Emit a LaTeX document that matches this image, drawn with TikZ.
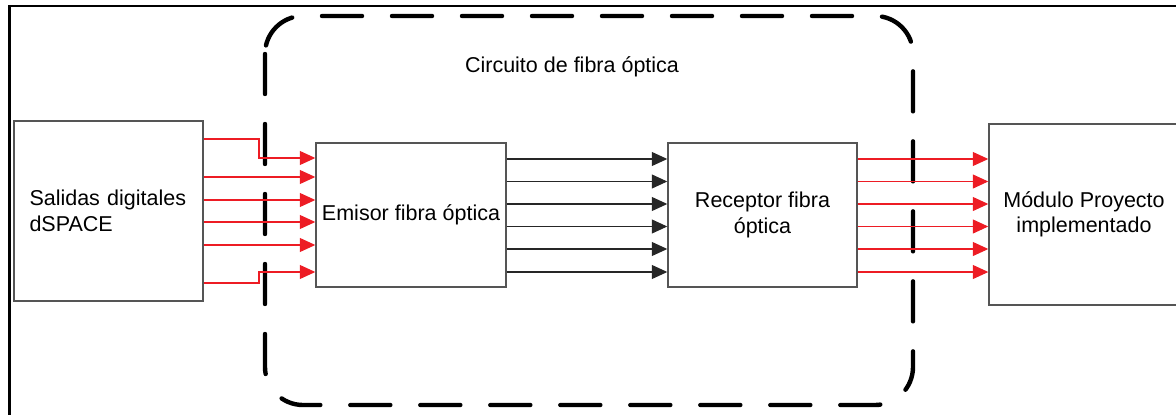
\documentclass[tikz,border=0pt]{standalone}
\usepackage{fontspec}
\setmainfont{Liberation Sans}
\usepackage{tikz}
\usetikzlibrary{arrows.meta,positioning}
\definecolor{sigred}{RGB}{237,28,36}
\definecolor{boxgray}{RGB}{85,85,85}

\begin{document}
\begin{tikzpicture}[x=1pt, y=-1pt, every node/.style={font=\fontsize{21.5}{25.5}\selectfont},
  blk/.style={draw=boxgray, line width=1.4pt, inner sep=0pt, align=center},
  redwire/.style={draw=sigred, line width=1.1pt, -{Triangle[length=15.5pt,width=14pt]}},
  blackwire/.style={draw=black!85, line width=1.1pt, -{Triangle[length=15.5pt,width=14pt]}},
  fiberzone/.style={line width=4.4pt, line cap=round, dash pattern=on 40pt off 30pt, rounded corners=38pt}]
  \useasboundingbox (0,0) rectangle (1176,415);
  % outer frame
  \draw[line width=2.8pt] (9.5,415) -- (9.5,6) -- (1176,6);
  % boxes
  \node[blk, minimum width=189pt, minimum height=180pt, text width=158pt, align=left] (salidas) at (108.5,211) {Salidas digitales\\dSPACE};
  \node[blk, minimum width=190pt, minimum height=144pt] (emisor) at (411,215) {Emisor fibra óptica};
  \node[blk, minimum width=189pt, minimum height=144pt] (receptor) at (762.5,215) {Receptor fibra\\óptica};
  \node[blk, minimum width=190pt, minimum height=181pt] (modulo) at (1084,214.5) {Módulo Proyecto\\implementado};
  % fiber optic circuit
  \draw[fiberzone] (265,16) rectangle (913,405);
  \node (circuito) at (572,67) {Circuito de fibra óptica};
  % red signals into the emitter
  \draw[redwire] (salidas.east |- 0,139) -| (259,158) -- (emisor.west |- 0,158);
  \foreach \y in {177,200,222,245}
    \draw[redwire] (salidas.east |- 0,\y) -- (emisor.west |- 0,\y);
  \draw[redwire] (salidas.east |- 0,283) -| (259,272) -- (emisor.west |- 0,272);
  % optical links
  \foreach \y in {159,181.5,204,226.5,249,272}
    \draw[blackwire] (emisor.east |- 0,\y) -- (receptor.west |- 0,\y);
  % red signals to the module
  \foreach \y in {159,181.5,204,226.5,249,272}
    \draw[redwire] (receptor.east |- 0,\y) -- (modulo.west |- 0,\y);
\end{tikzpicture}
\end{document}
